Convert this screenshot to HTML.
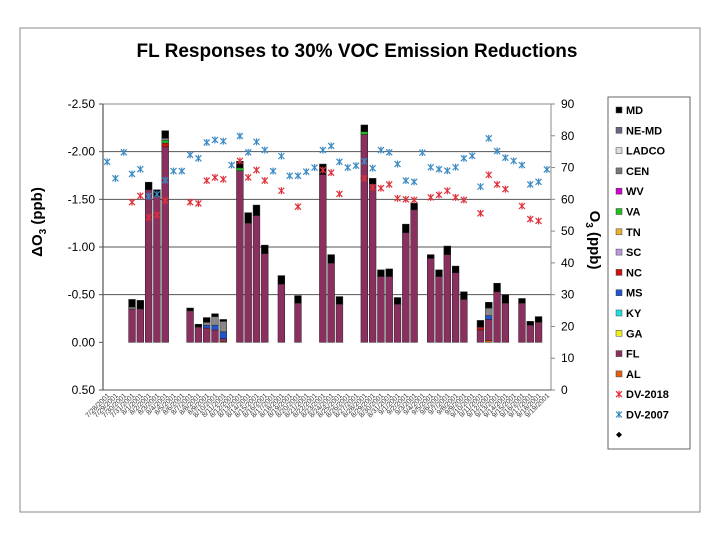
<!DOCTYPE html>
<html><head><meta charset="utf-8"><style>
body{margin:0;background:#fff;font-family:"Liberation Sans",Arial,sans-serif}
svg{display:block}
</style></head><body>
<svg id="c" width="720" height="540" viewBox="0 0 720 540">
<rect x="20" y="28" width="680" height="484" fill="#fff" stroke="#888" stroke-width="1"/>
<text x="357" y="57" text-anchor="middle" font-size="19" font-weight="bold">FL Responses to 30% VOC Emission Reductions</text>
<text transform="translate(42,222) rotate(-90)" text-anchor="middle" font-size="15" font-weight="bold">ΔO<tspan font-size="10" dy="4">3</tspan><tspan dy="-4"> (ppb)</tspan></text>
<text transform="translate(590,240) rotate(90)" text-anchor="middle" font-size="15" font-weight="bold">O<tspan font-size="10" dy="4">3</tspan><tspan dy="-4"> (ppb)</tspan></text>
<g id="plot"></g>
<g id="legend"></g>
</svg>
<script>
const categories=[];for(let d=0;d<54;d++){categories.push(d);}
const catLabels=["7/28/2001","7/29/2001","7/30/2001","7/31/2001","8/1/2001","8/2/2001","8/3/2001","8/4/2001","8/5/2001","8/6/2001","8/7/2001","8/8/2001","8/9/2001","8/10/2001","8/11/2001","8/12/2001","8/13/2001","8/14/2001","8/15/2001","8/16/2001","8/17/2001","8/18/2001","8/19/2001","8/20/2001","8/21/2001","8/22/2001","8/23/2001","8/24/2001","8/25/2001","8/26/2001","8/27/2001","8/28/2001","8/29/2001","8/30/2001","8/31/2001","9/1/2001","9/2/2001","9/3/2001","9/4/2001","9/5/2001","9/6/2001","9/7/2001","9/8/2001","9/9/2001","9/10/2001","9/11/2001","9/12/2001","9/13/2001","9/14/2001","9/15/2001","9/16/2001","9/17/2001","9/18/2001","9/19/2001"];
const flVals=[0,0,0,0.35,0.35,1.60,1.53,2.05,0,0,0.33,0.16,0.15,0.13,0.03,0,1.80,1.25,1.33,0.93,0,0.61,0,0.41,0,0,1.76,0.83,0.40,0,0,2.18,1.66,0.69,0.69,0.40,1.15,1.39,0,0.88,0.69,0.92,0.73,0.45,0,0.13,0.22,0.53,0.41,0,0.41,0.18,0.21,0];
const mdVals=[0,0,0,0.08,0.09,0.08,0.07,0.08,0,0,0.03,0.03,0.05,0.03,0.02,0,0.07,0.11,0.11,0.09,0,0.09,0,0.08,0,0,0.11,0.09,0.08,0,0,0.07,0.06,0.07,0.08,0.07,0.09,0.07,0,0.04,0.07,0.09,0.07,0.08,0,0.07,0.06,0.09,0.09,0,0.05,0.04,0.06,0];
const cenVals=[0,0,0,0.02,0,0,0,0.02,0,0,0,0,0.03,0.09,0.11,0,0,0,0,0,0,0,0,0,0,0,0,0,0,0,0,0,0,0,0,0,0,0,0,0,0,0,0,0,0,0,0.08,0,0,0,0,0,0,0];
const msVals=[0,0,0,0,0,0,0,0,0,0,0,0,0.03,0.05,0.07,0,0,0,0,0,0,0,0,0,0,0,0,0,0,0,0,0,0,0,0,0,0,0,0,0,0,0,0,0,0,0,0.04,0,0,0,0,0,0,0];
const vaVals=[0,0,0,0,0,0,0,0.03,0,0,0,0,0,0,0,0,0.03,0,0,0,0,0,0,0,0,0,0,0,0,0,0,0.03,0,0,0,0,0,0,0,0,0,0,0,0,0,0,0,0,0,0,0,0,0,0];
const ncVals=[0,0,0,0,0,0,0,0.04,0,0,0,0,0,0,0,0,0,0,0,0,0,0,0,0,0,0,0,0,0,0,0,0,0,0,0,0,0,0,0,0,0,0,0,0,0,0.03,0,0,0,0,0,0,0,0];
const alVals=[0,0,0,0,0,0,0,0,0,0,0,0,0,0,0.01,0,0,0,0,0,0,0,0,0,0,0,0,0,0,0,0,0,0,0,0,0,0,0,0,0,0,0,0,0,0,0,0.02,0,0,0,0,0,0,0];
const dv2007=[71.8,66.6,74.8,68,69.5,61,61.6,66,68.9,68.9,74,72.9,77.9,78.7,78.3,70.8,79.9,74.8,78.1,75.5,68.9,73.6,67.4,67.4,68.7,70,75.5,76.8,71.8,70,70.6,72,69.8,75.5,74.8,71.1,65.9,65.5,74.7,70.1,69.5,69,70.1,72.9,73.7,64,79.2,75.2,73.1,72.1,70.8,64.7,65.5,69.4];
const dv2018=[null,null,null,59.1,61.1,54.3,55.1,59.6,null,null,59.1,58.7,65.9,66.9,66.3,null,72.1,66.9,69.2,65.9,null,62.7,null,57.7,null,null,69.2,68.4,61.7,null,null,66.6,63.8,63.5,64.7,60.3,60,59.8,null,60.6,61.4,62.7,60.6,59.8,null,55.6,67.7,64.7,63.2,null,57.9,53.8,53.2,null];
const leftTicks=[-2.5,-2,-1.5,-1,-0.5,0,0.5];
const rightTicks=[90,80,70,60,50,40,30,20,10,0];
const legendNames=["MD","NE-MD","LADCO","CEN","WV","VA","TN","SC","NC","MS","KY","GA","FL","AL","DV-2018","DV-2007",""];
const legendColors=["#000","#666680","#ddd","#777","#cc00cc","#22bb22","#e8b030","#bb99dd","#cc1111","#2255cc","#22dddd","#eeee22","#8b2f5e","#e06010"];

const NS="http://www.w3.org/2000/svg";
const X0=103,X1=551,YT=104,YB=390;
const slot=(X1-X0)/categories.length;
const xC=i=>X0+slot*(i+0.5);
const yL=v=>YT+(v+2.5)/3*(YB-YT);
const yR=v=>YB-v/90*(YB-YT);
const plot=document.getElementById('plot');
function mk(tag,attrs,parent){const e=document.createElementNS(NS,tag);for(const k in attrs)e.setAttribute(k,attrs[k]);(parent||plot).appendChild(e);return e;}

leftTicks.forEach(t=>{
  if(t!==-2.5&&t!==0.5&&t!==0){const g=mk('line',{x1:X0,x2:X1,y1:yL(t),y2:yL(t),stroke:'#555','stroke-width':1});
  
  }
  const tx=mk('text',{x:X0-8,y:yL(t)+4,'text-anchor':'end','font-size':12});tx.textContent=t.toFixed(2);
  
  
  mk('line',{x1:X0-4,x2:X0,y1:yL(t),y2:yL(t),stroke:'#555'});
});
rightTicks.forEach(t=>{
  const tx=mk('text',{x:X1+10,y:yR(t)+4,'font-size':12});tx.textContent=t;
  
  
  mk('line',{x1:X1,x2:X1+4,y1:yR(t),y2:yR(t),stroke:'#888'});
});
mk('line',{x1:X0,x2:X1,y1:YT,y2:YT,stroke:'#888'});
const la=mk('line',{x1:X0,x2:X0,y1:YT,y2:YB,stroke:'#555','stroke-width':1.2});

const ra=mk('line',{x1:X1,x2:X1,y1:YT,y2:YB,stroke:'#888'});

const ba=mk('line',{x1:X0,x2:X1,y1:YB,y2:YB,stroke:'#555'});


const stack=[["al",alVals,"#e06010"],["fl",flVals,"#8b2f5e"],["nc",ncVals,"#cc1111"],["ms",msVals,"#2255cc"],["va",vaVals,"#22bb22"],["cen",cenVals,"#888"],["md",mdVals,"#000"]];
const bw=slot*0.82;
categories.forEach((c,i)=>{
  let acc=0;
  stack.forEach(([nm,arr,col])=>{
    const v=arr[i];if(!v)return;
    const y1=yL(-acc),y2=yL(-(acc+v));
    const r=mk('rect',{x:xC(i)-bw/2,y:y2,width:bw,height:y1-y2,fill:col,stroke:'#222','stroke-width':0.5});
    
    
    acc+=v;
  });
});
function star(x,y,col,name,parent){
  const g=mk('g',{stroke:col,'stroke-width':1.2},parent);
  
  
  const s=3;
  mk('line',{x1:x-s,y1:y-s,x2:x+s,y2:y+s},g);
  mk('line',{x1:x-s,y1:y+s,x2:x+s,y2:y-s},g);
  mk('line',{x1:x,y1:y-s-0.5,x2:x,y2:y+s+0.5},g);
}
dv2007.forEach((v,i)=>{if(v!=null)star(xC(i),yR(v),'#3b8ac4','dv-2007-point');});
dv2018.forEach((v,i)=>{if(v!=null)star(xC(i),yR(v),'#e0303a','dv-2018-point');});
catLabels.forEach((l,i)=>{
  const t=mk('text',{transform:`translate(${xC(i)+3},${YB+6}) rotate(-45)`,'text-anchor':'end','font-size':7,fill:'#333'});
  t.textContent=l;
  
  
});
const lg=document.getElementById('legend');
const box=mk('rect',{x:608,y:97,width:82,height:352,fill:'#fff',stroke:'#666'},lg);

legendNames.forEach((n,k)=>{
  const y=111+k*20.3;
  if(k<14){const r=mk('rect',{x:616,y:y-4,width:6,height:6,fill:legendColors[k],stroke:'#444','stroke-width':0.5},lg);
    }
  else if(k<16){star(619,y-1,k===14?'#e0303a':'#3b8ac4','legend-marker',lg);}
  else{const d=mk('path',{d:`M619,${y-4} L622,${y-1} L619,${y+2} L616,${y-1}Z`,fill:'#000'},lg);
    }
  if(n){const t=mk('text',{x:626,y:y+3,'font-size':11,'font-weight':'bold'},lg);t.textContent=n;
    }
});
</script>
</body></html>
